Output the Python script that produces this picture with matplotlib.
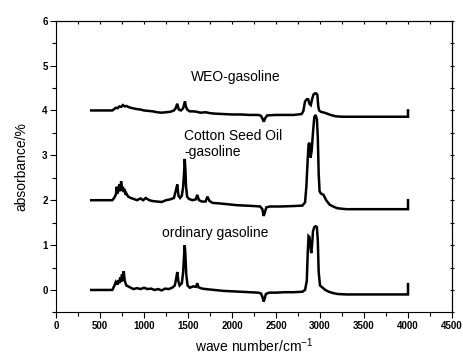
import matplotlib
matplotlib.use("Agg")
import matplotlib.pyplot as plt
import numpy as np
from matplotlib.ticker import MultipleLocator

plt.rcParams['font.family'] = ['Liberation Sans', 'DejaVu Sans']

# ordinary gasoline (offset 0)
ord_x = [400, 640, 660, 680, 700, 710, 720, 730, 740, 750, 760, 770, 780, 790, 800, 820, 850, 880,
         920, 960, 1000, 1040, 1080, 1120, 1160, 1200, 1240, 1280, 1320, 1350, 1365, 1378, 1390, 1405,
         1430, 1445, 1455, 1463, 1470, 1480, 1495, 1520, 1560, 1590, 1605, 1620, 1660, 1700, 1750,
         1800, 1900, 2000, 2100, 2200, 2300, 2330, 2345, 2360, 2370, 2385, 2420, 2500, 2600, 2700,
         2800, 2830, 2850, 2860, 2870, 2880, 2890, 2900, 2910, 2920, 2935, 2950, 2965, 2975, 2985,
         3000, 3030, 3060, 3100, 3150, 3200, 3300, 3500, 3700, 3800, 3900, 3990, 4000, 4000]
ord_y = [0, 0, 0.08, 0.18, 0.12, 0.22, 0.15, 0.28, 0.18, 0.35, 0.2, 0.42, 0.22, 0.15, 0.1, 0.08, 0.05,
         0.02, 0.04, 0.02, 0.05, 0.02, 0.03, 0.0, 0.02, -0.01, 0.03, 0.02, 0.05, 0.1, 0.25, 0.4, 0.2,
         0.1, 0.15, 0.4, 0.75, 1.0, 0.8, 0.35, 0.1, 0.05, 0.08, 0.07, 0.15, 0.06, 0.03, 0.02, 0.01,
         0.0, -0.02, -0.03, -0.04, -0.05, -0.06, -0.08, -0.15, -0.26, -0.2, -0.09, -0.06, -0.06,
         -0.05, -0.05, -0.04, 0.0, 0.2, 0.8, 1.2, 1.18, 1.0, 0.82, 1.0, 1.3, 1.4, 1.42, 1.4, 1.1,
         0.4, 0.1, 0.05, 0.0, -0.04, -0.07, -0.09, -0.1, -0.1, -0.1, -0.1, -0.1, -0.1, -0.1, 0.13]

# Cotton Seed Oil-gasoline (offset 2)
cot_x = [400, 640, 660, 680, 690, 700, 710, 720, 730, 740, 750, 760, 770, 780, 790, 800, 820, 850,
         880, 920, 960, 990, 1020, 1060, 1100, 1150, 1200, 1250, 1300, 1340, 1360, 1378, 1392, 1410,
         1430, 1445, 1455, 1463, 1470, 1478, 1490, 1510, 1550, 1590, 1605, 1625, 1660, 1700, 1720,
         1745, 1780, 1850, 1950, 2050, 2150, 2250, 2320, 2345, 2360, 2372, 2390, 2430, 2550, 2700,
         2800, 2830, 2845, 2860, 2870, 2880, 2893, 2905, 2920, 2935, 2950, 2965, 2975, 2985, 2995,
         3010, 3040, 3070, 3110, 3160, 3200, 3300, 3500, 3700, 3900, 4000, 4000]
cot_y = [2, 2, 2.05, 2.12, 2.3, 2.15, 2.25, 2.35, 2.2, 2.42, 2.25, 2.3, 2.18, 2.25, 2.12, 2.15, 2.08,
         2.05, 2.03, 2.0, 2.04, 2.0, 2.05, 2.0, 1.98, 1.97, 1.96, 2.0, 2.02, 2.05, 2.2, 2.35, 2.1,
         2.05, 2.1, 2.3, 2.6, 2.92, 2.7, 2.3, 2.08, 2.03, 2.0, 2.02, 2.12, 2.0, 1.97, 1.97, 2.08,
         1.98, 1.94, 1.93, 1.91, 1.89, 1.88, 1.87, 1.86, 1.8, 1.65, 1.72, 1.84, 1.86, 1.86, 1.87,
         1.88, 1.95, 2.3, 2.9, 3.25, 3.28, 2.95, 3.1, 3.5, 3.85, 3.9, 3.8, 3.4, 2.6, 2.2, 2.15, 2.12,
         2.0, 1.9, 1.85, 1.82, 1.8, 1.8, 1.8, 1.8, 1.8, 2.0]

# WEO-gasoline (offset 4)
weo_x = [400, 640, 660, 680, 700, 720, 740, 760, 780, 800, 830, 870, 920, 960, 1000, 1050, 1100,
         1150, 1200, 1250, 1300, 1340, 1360, 1378, 1395, 1420, 1445, 1458, 1466, 1475, 1490, 1520,
         1560, 1600, 1640, 1700, 1750, 1800, 1900, 2000, 2100, 2200, 2300, 2330, 2350, 2362, 2375,
         2400, 2500, 2600, 2700, 2790, 2810, 2830, 2850, 2865, 2880, 2895, 2910, 2925, 2940, 2955,
         2970, 2980, 2990, 3010, 3050, 3080, 3120, 3180, 3250, 3400, 3600, 3800, 3900, 4000, 4000]
weo_y = [4, 4, 4.03, 4.06, 4.05, 4.09, 4.08, 4.12, 4.09, 4.1, 4.07, 4.05, 4.03, 4.02, 4.0, 3.99,
         3.98, 3.96, 3.95, 3.96, 3.97, 4.0, 4.05, 4.15, 4.02, 4.0, 4.05, 4.15, 4.2, 4.1, 4.02, 3.98,
         3.98, 3.97, 3.95, 3.96, 3.94, 3.93, 3.92, 3.91, 3.91, 3.9, 3.9, 3.88, 3.8, 3.75, 3.82, 3.89,
         3.9, 3.9, 3.9, 3.92, 3.98, 4.2, 4.25, 4.25, 4.15, 4.12, 4.25, 4.35, 4.38, 4.38, 4.35, 4.1,
         4.0, 3.97, 3.95, 3.93, 3.9, 3.87, 3.86, 3.86, 3.86, 3.86, 3.86, 3.86, 4.0]

labels = ["ordinary gasoline", "Cotton Seed Oil\n-gasoline", "WEO-gasoline"]
xticks = [0, 500, 1000, 1500, 2000, 2500, 3000, 3500, 4000, 4500]
yticks = [0, 1, 2, 3, 4, 5, 6]

fig = plt.figure(figsize=(4.64, 3.58), dpi=100)
ax = fig.add_axes([56/464, 1 - 312.4/358, 396/464, (312.4 - 20.7)/358])

for xs, ys in [(ord_x, ord_y), (cot_x, cot_y), (weo_x, weo_y)]:
    ax.plot(xs, ys, color='black', lw=1.8, solid_joinstyle='miter')

ax.text(1201, 1.28, labels[0], fontsize=10, ha='left', va='center')
ax.text(1455, 3.25, labels[1], fontsize=10, ha='left', va='center', linespacing=1.25)
ax.text(2045, 4.74, labels[2], fontsize=10, ha='center', va='center')

ax.set_xlim(0, 4500)
ax.set_ylim(-0.5, 6)
ax.set_xticks(xticks, labels=[str(t) for t in xticks], fontweight='bold', fontsize=7)
ax.set_yticks(yticks, labels=[str(t) for t in yticks], fontweight='bold', fontsize=7)
ax.xaxis.set_minor_locator(MultipleLocator(250))
ax.yaxis.set_minor_locator(MultipleLocator(0.5))
ax.tick_params(which='both', direction='out', top=False, right=False, width=0.8)
ax.tick_params(which='major', length=4, pad=2)
ax.tick_params(which='minor', length=3)

# mirrored small ticks on top and right
secx = ax.secondary_xaxis('top')
secx.xaxis.set_major_locator(MultipleLocator(250))
secx.tick_params(direction='in', length=2, width=0.8, labeltop=False)
secy = ax.secondary_yaxis('right')
secy.yaxis.set_major_locator(MultipleLocator(0.5))
secy.tick_params(direction='inout', length=3, width=0.8, labelright=False)

for s in ax.spines.values():
    s.set_linewidth(0.8)

ax.set_xlabel(r'wave number/cm$^{\mathregular{-1}}$', fontsize=10, labelpad=4)
ax.set_ylabel('absorbance/%', fontsize=10, labelpad=10)

fig.savefig('out.png', dpi=100)
